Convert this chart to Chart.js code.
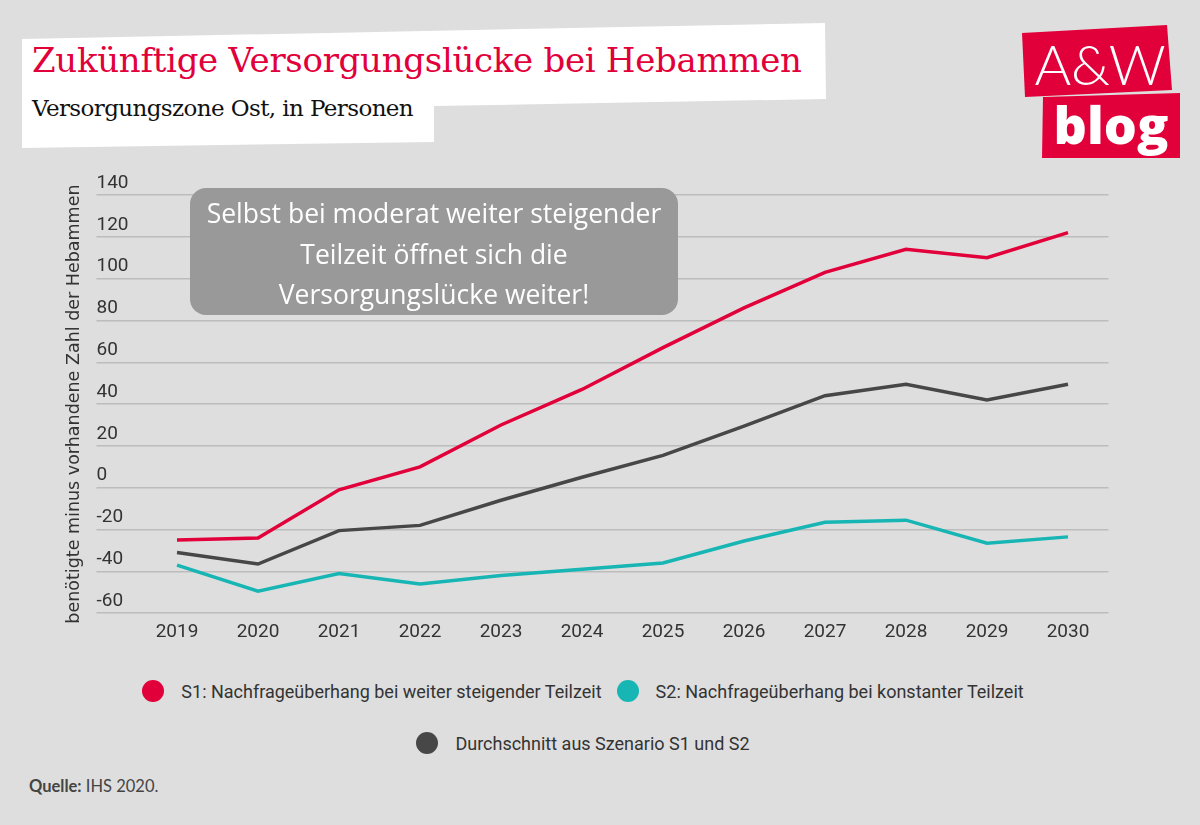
<!DOCTYPE html>
<html lang="de">
<head>
<meta charset="utf-8">
<title>Zukünftige Versorgungslücke bei Hebammen</title>
<script src="https://cdn.jsdelivr.net/npm/chart.js@4.4.1/dist/chart.umd.min.js"></script>
<style>
  html, body { margin: 0; padding: 0; }
  body {
    width: 1200px; height: 825px; position: relative; overflow: hidden;
    background: #dedede; font-family: Lato, "Open Sans", sans-serif;
  }
  .titlebox {
    position: absolute; left: 0; top: 0; width: 1200px; height: 160px; background: #fff;
    clip-path: polygon(22px 39px, 825px 23px, 826px 99px, 434px 106px, 434px 142px, 22px 148px);
  }
  h1 {
    position: absolute; left: 32px; top: 40px; margin: 0; white-space: nowrap;
    font: 400 34px "DejaVu Serif", serif; color: #e2003b; letter-spacing: -0.3px;
  }
  h2 {
    position: absolute; left: 32px; top: 95px; margin: 0; white-space: nowrap;
    font: 400 23px "DejaVu Serif", serif; color: #111; letter-spacing: -0.6px;
  }
  .logo-top {
    position: absolute; left: 0; top: 0; width: 1200px; height: 200px; background: #e2003b;
    clip-path: polygon(1022px 33px, 1167px 25px, 1172px 90px, 1025px 97px);
  }
  .logo-bottom {
    position: absolute; left: 0; top: 0; width: 1200px; height: 200px; background: #e2003b;
    clip-path: polygon(1043px 97px, 1180px 93px, 1180px 158px, 1042px 158px);
  }
  .logo-aw {
    position: absolute; left: 1030px; top: 34px; width: 140px; text-align: center;
    font: 300 56px Lato, "Open Sans", sans-serif; color: #fff; line-height: 60px;
  }
  .logo-blog {
    position: absolute; left: 1042px; top: 94px; width: 138px; text-align: center;
    font: 800 52px "Open Sans", Lato, sans-serif; color: #fff; line-height: 60px;
  }
  #wrap { position: absolute; left: 0; top: 170px; width: 1200px; height: 489px; }
  .note {
    position: absolute; left: 190px; top: 188px; width: 488px; height: 127px;
    box-sizing: border-box; padding-top: 5px;
    background: #999; border-radius: 16px; color: #fff; text-align: center;
    font: 400 26.5px "Open Sans", Lato, sans-serif; line-height: 40.5px;
  }
  #legend {
    position: absolute; left: 103px; top: 676px; width: 960px;
    display: flex; flex-wrap: wrap; justify-content: center; column-gap: 15px; row-gap: 22px;
  }
  #legend .item {
    display: flex; align-items: center; height: 30px; white-space: nowrap;
    font: 18px Roboto, sans-serif; color: #333;
  }
  #legend .dot { width: 22px; height: 22px; border-radius: 50%; margin-right: 17px; }
  .source {
    position: absolute; left: 29px; top: 776px;
    font: 16.5px Lato, "Open Sans", sans-serif; color: #444;
  }
</style>
</head>
<body>
<div class="titlebox"></div>
<h1>Zukünftige Versorgungslücke bei Hebammen</h1>
<h2>Versorgungszone Ost, in Personen</h2>
<div class="logo-top"></div>
<div class="logo-bottom"></div>
<div class="logo-aw">A&amp;W</div>
<div class="logo-blog">blog</div>

<div id="wrap"><canvas id="myChart" width="1200" height="489"></canvas></div>

<div class="note">Selbst bei moderat weiter steigender<br>Teilzeit öffnet sich die<br>Versorgungslücke weiter!</div>
<div id="legend"></div>
<div class="source"><b>Quelle:</b> IHS 2020.</div>

<script>
// values
const years = ["2019", "2020", "2021", "2022", "2023", "2024", "2025", "2026", "2027", "2028", "2029", "2030"];
const s1Values = [-25, -24, -1, 10, 30, 47, 67, 86, 103, 114, 110, 122];
const s2Values = [-37, -49.5, -41, -46, -42, -39, -36, -25.5, -16.5, -15.5, -26.5, -23.5];
const avgValues = [-31, -36.5, -20.5, -18, -6, 5, 15.5, 29.5, 44, 49.5, 42, 49.5];
const seriesNames = [
  "S1: Nachfrageüberhang bei weiter steigender Teilzeit",
  "S2: Nachfrageüberhang bei konstanter Teilzeit",
  "Durchschnitt aus Szenario S1 und S2",
];
const seriesColors = ["#e2003b", "#17b6b4", "#474747"];
const yMin = -60;
const yMax = 140;
const yStep = 20;
const yTitle = "benötigte minus vorhandene Zahl der Hebammen";

const tickFont = { family: "Roboto, sans-serif", size: 19 };

// legend built as html from the chart's own legend items
const htmlLegend = {
  id: "htmlLegend",
  afterUpdate(chart) {
    const box = document.getElementById("legend");
    box.innerHTML = "";
    const items = chart.options.plugins.legend.labels.generateLabels(chart);
    items.forEach((item) => {
      const el = document.createElement("div");
      el.className = "item";
      const dot = document.createElement("span");
      dot.className = "dot";
      dot.style.background = item.strokeStyle;
      const txt = document.createElement("span");
      txt.textContent = item.text;
      el.append(dot, txt);
      box.append(el);
    });
  },
};

const allValues = [s1Values, s2Values, avgValues];

new Chart("myChart", {
  type: "line",
  data: {
    labels: years,
    datasets: allValues.map((vals, i) => ({
      label: seriesNames[i],
      data: vals,
      borderColor: seriesColors[i],
      backgroundColor: seriesColors[i],
      borderWidth: 3.5,
      pointRadius: 0,
      tension: 0,
    })),
  },
  options: {
    responsive: false,
    animation: false,
    layout: { padding: { left: 64, right: 91.5, top: 25, bottom: 7 } },
    plugins: {
      legend: { display: false },
      tooltip: { enabled: false },
    },
    scales: {
      x: {
        offset: true,
        grid: { display: false, drawTicks: false },
        border: { display: false },
        ticks: { color: "#333", font: tickFont, padding: 8, maxRotation: 0 },
      },
      y: {
        min: yMin,
        max: yMax,
        border: { display: false },
        grid: { color: "#bcbcbc", lineWidth: 1.5, tickLength: 40 },
        ticks: {
          stepSize: yStep,
          color: "#333",
          font: tickFont,
          mirror: true,
          padding: -40,
          labelOffset: -12,
        },
        title: {
          display: true,
          text: yTitle,
          color: "#333",
          padding: 0,
          font: { family: "'DejaVu Sans', sans-serif", size: 17.5 },
        },
        afterFit(scale) {
          scale.width = 72.5;
        },
      },
    },
  },
  plugins: [htmlLegend],
});
</script>
</body>
</html>
